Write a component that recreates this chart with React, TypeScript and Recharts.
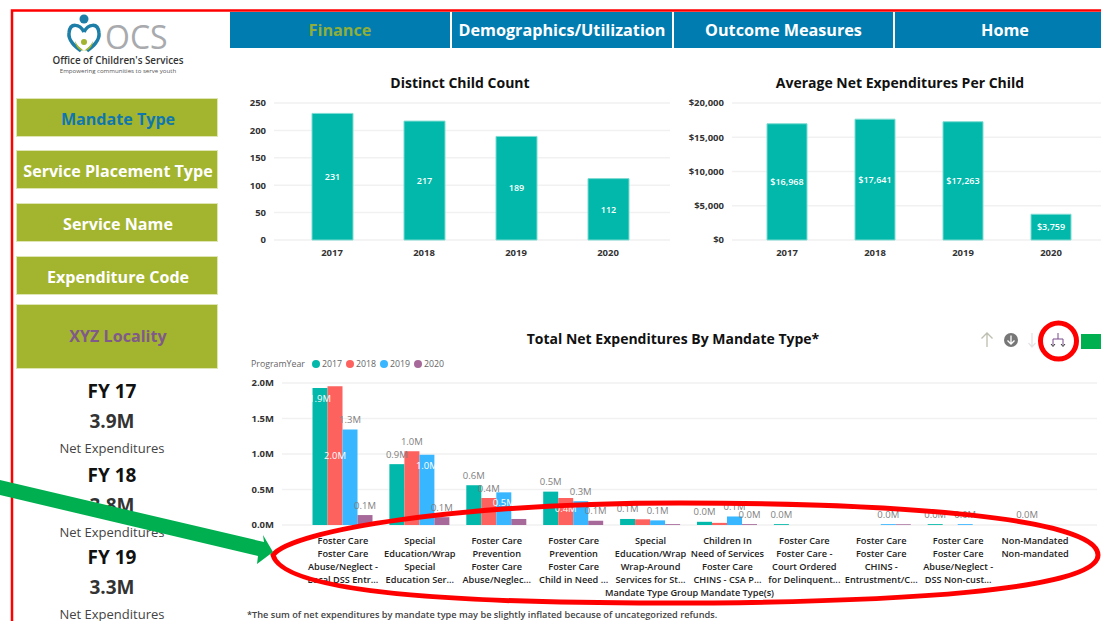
import React from 'react'
import { BarChart, Bar, XAxis, YAxis, CartesianGrid, LabelList } from 'recharts'

const FONT = '"Open Sans", sans-serif'
const TEAL = '#01b8aa'
const OLIVE = '#a3b42f'
const TAB_BLUE = '#007cb0'

const years = ['2017', '2018', '2019', '2020']
const childCounts = [231, 217, 189, 112]
const avgExpenditures = [16968, 17641, 17263, 3759]
const childTicks = [0, 50, 100, 150, 200, 250]
const avgTicks = [0, 5000, 10000, 15000, 20000]
const mandateTicks = [0, 500000, 1000000, 1500000, 2000000]

const mandateLabels = [
  ['Foster Care', 'Foster Care', 'Abuse/Neglect -', 'Local DSS Entr...'],
  ['Special', 'Education/Wrap', 'Special', 'Education Ser...'],
  ['Foster Care', 'Prevention', 'Foster Care', 'Abuse/Neglec...'],
  ['Foster Care', 'Prevention', 'Foster Care', 'Child in Need ...'],
  ['Special', 'Education/Wrap', 'Wrap-Around', 'Services for St...'],
  ['Children In', 'Need of Services', 'Foster Care', 'CHINS - CSA P...'],
  ['Foster Care', 'Foster Care -', 'Court Ordered', 'for Delinquent...'],
  ['Foster Care', 'Foster Care', 'CHINS -', 'Entrustment/C...'],
  ['Foster Care', 'Foster Care', 'Abuse/Neglect -', 'DSS Non-cust...'],
  ['Non-Mandated', 'Non-mandated'],
]
const exp2017 = [1930000, 857000, 560000, 470000, 85000, 45000, 12000, null, 12000, null]
const exp2018 = [1953000, 1040000, 380000, 380000, 80000, 30000, null, null, null, 1000]
const exp2019 = [1345000, 988000, 460000, 335000, 65000, 120000, null, 12000, 12000, null]
const exp2020 = [140000, 110000, 85000, 60000, 12000, 12000, null, 10000, null, null]

const yearColors = ['#01b8aa', '#fd625e', '#38b6ff', '#a66999']
const yearSeries = [exp2017, exp2018, exp2019, exp2020]

const kpis = [
  { year: 'FY 17', total: '3.9M' },
  { year: 'FY 18', total: '3.8M' },
  { year: 'FY 19', total: '3.3M' },
]
const tabs = ['Finance', 'Demographics/Utilization', 'Outcome Measures', 'Home']
const slicers = ['Mandate Type', 'Service Placement Type', 'Service Name', 'Expenditure Code', 'XYZ Locality']

const yearRows = years.map((y, i) => ({ year: y, count: childCounts[i], avg: avgExpenditures[i] }))
const mandateRows = mandateLabels.map((lines, i) => {
  const row: any = { name: lines.join('\n') }
  years.forEach((y, s) => { row[y] = yearSeries[s][i] })
  return row
})

// Power BI puts some labels inside the bar and drops the ones that collide
// (index counts only the bars that exist in the series)
const insideEnd = ['2017-0', '2019-1', '2019-2', '2018-3']
const centered = ['2018-0']
const dropped = ['2020-2', '2018-4', '2020-4', '2018-5', '2020-6']

const tickStyle = { fontSize: 9.5, fontWeight: 700, fill: '#333', fontFamily: FONT }
const gridColor = '#f1f1f1'

function MandateTick({ x, y, payload }: any) {
  const lines = String(payload.value).split('\n')
  return (
    <text x={x} y={y + 11} textAnchor="middle" fontFamily={FONT} fontSize={9.2} fontWeight={600} fill="#222">
      {lines.map((line, i) => (
        <tspan key={i} x={x} dy={i === 0 ? 0 : 13}>{line}</tspan>
      ))}
    </text>
  )
}

function mandateLabel(yearIdx: number) {
  return (props: any) => {
    const { x, y, width, height, value, index } = props
    if (value == null) return null
    const key = `${years[yearIdx]}-${index}`
    if (dropped.includes(key)) return null
    const inside = insideEnd.includes(key)
    const mid = centered.includes(key)
    const cy = mid ? y + height / 2 : inside ? y + 10.5 : y - 10
    return (
      <text x={x + width / 2} y={cy} dy={3.5} textAnchor="middle" fontFamily={FONT} fontSize={9.5}
        fill={inside || mid ? '#fff' : '#7f7f7f'}>
        {(value / 1000000).toFixed(1)}M
      </text>
    )
  }
}

function YearChart({ left, width, yWidth, pad, barSize, dataKey, domain, ticks, fmt }: any) {
  return (
    <div style={{ position: 'absolute', left, top: 70 }}>
      <BarChart width={width} height={190} data={yearRows} margin={{ top: 33, right: 0, bottom: 0, left: 0 }}>
        <CartesianGrid vertical={false} stroke={gridColor} strokeWidth={1.5} />
        <XAxis dataKey="year" axisLine={false} tickLine={false} tick={tickStyle} padding={pad} height={20} tickMargin={3} interval={0} />
        <YAxis width={yWidth} domain={domain} ticks={ticks} axisLine={false} tickLine={false} tick={tickStyle} tickFormatter={fmt} tickMargin={2} interval={0} />
        <Bar dataKey={dataKey} fill={TEAL} stroke="#7edcd3" strokeWidth={1} barSize={barSize} isAnimationActive={false}>
          <LabelList dataKey={dataKey} position="center" formatter={fmt} fill="#fff" fontSize={9} fontWeight={600} fontFamily={FONT} />
        </Bar>
      </BarChart>
    </div>
  )
}

function Logo() {
  return (
    <svg style={{ position: 'absolute', left: 40, top: 12 }} width={160} height={66}>
      <circle cx={44} cy={7} r={4.5} fill="#1d7fa8" />
      <path d="M44 20 C40 12 30 10 29 21 C28 29 36 35 41 39" fill="none" stroke="#1d7fa8" strokeWidth={3.5} />
      <path d="M44 20 C48 12 58 10 59 21 C60 29 52 35 47 39" fill="none" stroke="#1d7fa8" strokeWidth={3.5} />
      <path d="M35 29 C38 35 41 36 44 39 C47 36 50 35 53 29 C52 42 36 42 35 29 Z" fill={OLIVE} />
      <circle cx={44} cy={30} r={3} fill={OLIVE} />
      <text x={65} y={37} fontFamily={FONT} fontSize={32} fill="#a8aaad">OCS</text>
      <text x={78} y={52} textAnchor="middle" fontFamily={FONT} fontSize={9.8} fontWeight={600} fill="#333">Office of Children's Services</text>
      <text x={78} y={61} textAnchor="middle" fontFamily={FONT} fontSize={6.1} fill="#555">Empowering communities to serve youth</text>
    </svg>
  )
}

function Centered({ x, y, size, weight, color, w = 200, children }: any) {
  return (
    <div style={{ position: 'absolute', left: x - w / 2, width: w, top: y - size, height: size * 2, lineHeight: `${size * 2}px`, textAlign: 'center', fontSize: size, fontWeight: weight, color, whiteSpace: 'nowrap' }}>
      {children}
    </div>
  )
}

const slicerBoxes = [[98, 39, 3], [150, 39, 3], [203, 39, 3], [256, 39, 3], [304, 65, 0]]
const slicerColors = ['#0f77ad', '#fff', '#fff', '#fff', '#7f5a8a']
const tabBoxes = [[230, 220, 0], [452, 220, 0], [674, 219, 0], [895, 206, 14]]

export default function App() {
  return (
    <div style={{ position: 'relative', width: 1101, height: 621, overflow: 'hidden', background: '#fff', fontFamily: FONT }}>
      <style>{'body{margin:0}'}</style>

      {tabs.map((t, i) => (
        <div key={t} style={{ position: 'absolute', left: tabBoxes[i][0], width: tabBoxes[i][1], top: 12, height: 36, lineHeight: '36px', background: TAB_BLUE, color: i === 0 ? '#8fae3b' : '#fff', textAlign: 'center', fontWeight: 700, fontSize: 16.2, textIndent: tabBoxes[i][2] }}>
          {t}
        </div>
      ))}

      <Logo />

      {slicers.map((s, i) => (
        <div key={s} style={{ position: 'absolute', left: 16, width: 200, top: slicerBoxes[i][0], height: slicerBoxes[i][1] - 2, lineHeight: `${slicerBoxes[i][1] - 2 + slicerBoxes[i][2]}px`, background: OLIVE, border: '1px solid #dfe5b5', color: slicerColors[i], textAlign: 'center', fontWeight: 700, fontSize: 16.1, textIndent: 2 }}>
          {s}
        </div>
      ))}

      {kpis.map((k, i) => {
        const base = [391, 475, 557][i]
        return (
          <React.Fragment key={k.year}>
            <Centered x={112} y={base} size={19} weight={700} color="#111">{k.year}</Centered>
            <Centered x={112} y={base + 30} size={19} weight={700} color="#333">{k.total}</Centered>
            <Centered x={112} y={base + 57} size={13} weight={400} color="#444">Net Expenditures</Centered>
          </React.Fragment>
        )
      })}

      <Centered x={460} y={83} size={14} weight={700} color="#111">Distinct Child Count</Centered>
      <Centered x={900} y={83} size={14} weight={700} color="#111" w={320}>Average Net Expenditures Per Child</Centered>

      <YearChart left={240} width={430} yWidth={34} pad={{ left: 12, right: 16 }} barSize={41} dataKey="count" domain={[0, 250]} ticks={childTicks} />
      <YearChart left={670} width={431} yWidth={62} pad={{ left: 11, right: 6 }} barSize={40} dataKey="avg" domain={[0, 20000]} ticks={avgTicks}
        fmt={(v: number) => '$' + v.toLocaleString('en-US')} />

      <Centered x={673} y={339} size={14} weight={700} color="#111" w={400}>Total Net Expenditures By Mandate Type*</Centered>

      {/* legend */}
      <div style={{ position: 'absolute', left: 251, top: 357, height: 14, lineHeight: '14px', fontSize: 8.8, color: '#666', whiteSpace: 'nowrap' }}>
        <span style={{ position: 'absolute', left: 0 }}>ProgramYear</span>
        {years.map((y, i) => (
          <span key={y} style={{ position: 'absolute', left: 61 + i * 34 }}>
            <span style={{ position: 'absolute', left: 0, top: 3, width: 8, height: 8, borderRadius: 4, background: yearColors[i] }} />
            <span style={{ position: 'absolute', left: 10 }}>{y}</span>
          </span>
        ))}
      </div>

      <div style={{ position: 'absolute', left: 240, top: 350 }}>
        <BarChart width={861} height={250} data={mandateRows} barGap={0} margin={{ top: 33, right: 4, bottom: 0, left: 0 }}>
          <CartesianGrid vertical={false} stroke={gridColor} strokeWidth={1.5} />
          <XAxis dataKey="name" axisLine={false} tickLine={false} height={75} interval={0} padding={{ left: 22.5, right: 23.5 }} tick={<MandateTick />}
            label={{ value: 'Mandate Type Group Mandate Type(s)', position: 'insideBottom', offset: 4, fontSize: 9.2, fontWeight: 600, fill: '#222', fontFamily: FONT }} />
          <YAxis width={42} domain={[0, 2000000]} ticks={mandateTicks} axisLine={false} tickLine={false} tick={tickStyle} tickMargin={2} interval={0}
            tickFormatter={(v: number) => (v / 1000000).toFixed(1) + 'M'} />
          {years.map((y, i) => (
            <Bar key={y} dataKey={y} fill={yearColors[i]} barSize={15} isAnimationActive={false}>
              <LabelList dataKey={y} content={mandateLabel(i)} />
            </Bar>
          ))}
        </BarChart>
      </div>

      <div style={{ position: 'absolute', left: 247, top: 608, fontSize: 9.2, fontWeight: 600, color: '#444', whiteSpace: 'nowrap' }}>
        *The sum of net expenditures by mandate type may be slightly inflated because of uncategorized refunds.
      </div>

      {/* annotations drawn over the screenshot */}
      <svg style={{ position: 'absolute', left: 0, top: 0, pointerEvents: 'none' }} width={1101} height={621}>
        <path d="M12 621 V10.5 H1101" fill="none" stroke="#ff0000" strokeWidth={2.5} />
        <path d="M987 347 V333 M981.5 338.5 L987 333 L992.5 338.5" fill="none" stroke="#bdbdb0" strokeWidth={1.3} />
        <circle cx={1011} cy={340} r={7} fill="#777" />
        <path d="M1011 335.5 V344 M1007.5 340.5 L1011 344 L1014.5 340.5" fill="none" stroke="#fff" strokeWidth={1.3} />
        <path d="M1032 333 V347 M1028.5 343 L1032 347 L1035.5 343" fill="none" stroke="#e4e4e4" strokeWidth={1.3} />
        <path d="M1058 333 V339 M1053 345 V339 H1063 V345" fill="none" stroke="#7a4b8c" strokeWidth={1} />
        <path d="M1051 344 L1053 346.5 L1055 344 M1061 344 L1063 346.5 L1065 344" fill="none" stroke="#333" strokeWidth={1} />
        <circle cx={1058.5} cy={341} r={18} fill="none" stroke="#ff0000" strokeWidth={5} />
        <rect x={1081} y={334} width={20} height={15} fill="#00b050" />
        <path d="M273 555 C292 530 460 503 680 503 C900 503 1098 518 1098 555 C1098 590 900 603 660 603 C430 603 282 590 273 555 Z"
          fill="none" stroke="#ff0000" strokeWidth={5} />
        <polygon points="0,480 264,542 263,535 273,552 257,564 258,556 0,495" fill="#00b050" />
      </svg>
    </div>
  )
}
